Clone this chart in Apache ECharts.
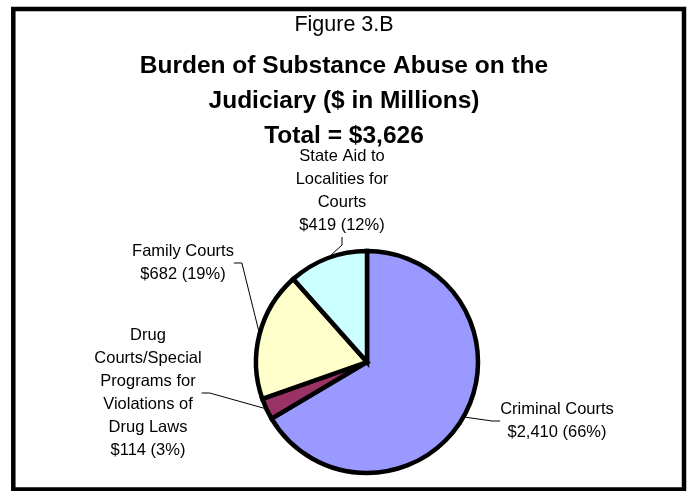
<!DOCTYPE html>
<html>
<head>
<meta charset="utf-8">
<script src="https://cdn.jsdelivr.net/npm/echarts@6/dist/echarts.min.js"></script>
<style>
html,body{margin:0;padding:0;background:#fff;}
#chart{width:688px;height:491px;}
</style>
</head>
<body>
<div id="chart"></div>
<script>
// ---- data ----
const categories = [
  'Criminal Courts',
  'Drug\nCourts/Special\nPrograms for\nViolations of\nDrug Laws',
  'Family Courts',
  'State Aid to\nLocalities for\nCourts'
];
const values = [2410, 114, 682, 419];
const sliceColors = ['#9999FF', '#993366', '#FFFFCC', '#CCFFFF'];
const figureLabel = 'Figure 3.B';
const titleLines = ['Burden of Substance Abuse on the', 'Judiciary ($ in Millions)', 'Total = $3,626'];

// ---- layout (label centre positions, px) ----
const labelPos = [[557, 421], [148, 393], [183, 263], [342, 191]];

const FONT = '"Liberation Sans", Arial, sans-serif';
const chart = echarts.init(document.getElementById('chart'), null, {renderer: 'canvas'});

function fmt(n) { return n.toString().replace(/\B(?=(\d{3})+(?!\d))/g, ','); }

chart.setOption({
  backgroundColor: '#ffffff',
  animation: false,
  title: [
    {
      text: figureLabel, left: 'center', top: 9,
      textStyle: {fontFamily: FONT, fontSize: 21.5, fontWeight: 'normal', color: '#000', lineHeight: 22}
    },
    {
      text: titleLines.join('\n'), left: 'center', top: 44,
      textStyle: {fontFamily: FONT, fontSize: 24.5, fontWeight: 'bold', color: '#000', lineHeight: 35}
    }
  ],
  graphic: [
    {
      type: 'rect', silent: true, z: 100,
      shape: {x: 13.3, y: 9, width: 670.7, height: 480.5},
      style: {fill: 'none', stroke: '#000', lineWidth: 4.5}
    }
  ],
  series: [{
    type: 'pie',
    center: [367, 362],
    radius: [0, 111],
    startAngle: 90,
    clockwise: true,
    percentPrecision: 0,
    avoidLabelOverlap: false,
    data: categories.map((c, i) => ({name: c, value: values[i], itemStyle: {color: sliceColors[i]}})),
    itemStyle: {borderColor: '#000', borderWidth: 4.5, borderJoin: 'miter'},
    label: {
      show: true,
      position: 'outside',
      fontFamily: FONT,
      fontSize: 16.5,
      lineHeight: 23,
      color: '#000',
      align: 'center',
      formatter: p => p.name + '\n$' + fmt(p.value) + ' (' + p.percent + '%)'
    },
    labelLine: {show: true, length: 8, length2: 8, lineStyle: {color: '#000', width: 1}},
    labelLayout: function (params) {
      const pos = labelPos[params.dataIndex];
      return {x: pos[0], y: pos[1], align: 'center', verticalAlign: 'middle'};
    },
    emphasis: {disabled: true}
  }]
});
</script>
</body>
</html>
